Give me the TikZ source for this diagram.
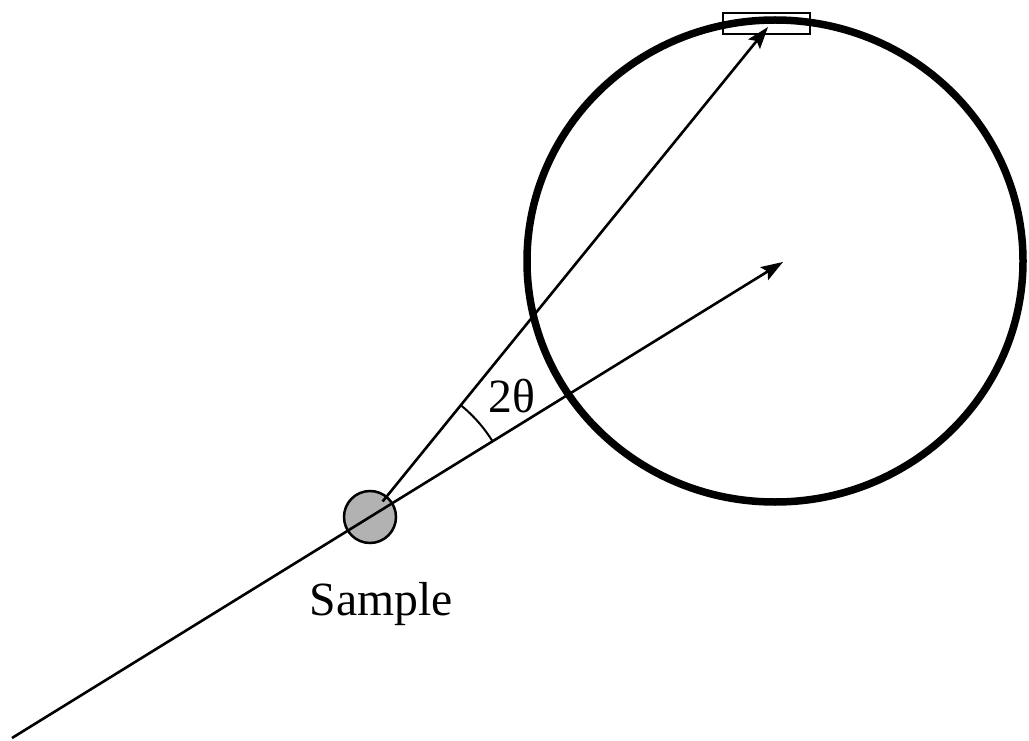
\documentclass[tikz,border=0pt]{standalone}
\usepackage{fontspec}
\setmainfont{Liberation Serif}
\usetikzlibrary{arrows.meta,shapes.geometric,calc}
\begin{document}
\begin{tikzpicture}[x=1pt,y=-1pt,
  beam/.style={line width=2.6pt,-{Stealth[length=22pt,width=15pt,inset=4pt]}},
  lbl/.style={font=\fontsize{47.7}{52}\selectfont,inner sep=0pt}]
\useasboundingbox (0,0) rectangle (1029,741);
% detector ring
\node[ellipse,draw,line width=7.5pt,minimum width=496pt,minimum height=482pt,inner sep=0pt] (ring) at (775,261) {};
% detector element
\node[draw,line width=1.2pt,minimum width=87pt,minimum height=21pt,inner sep=0pt] (det) at (766.5,23.5) {};
% sample
\coordinate (v) at (370,517);
\node[circle,draw,line width=2.5pt,fill=gray!60,minimum size=52pt,inner sep=0pt] (sample) at (v) {};
% beams
\coordinate (src) at (12,738);
\coordinate (tip) at (783,262);
\coordinate (dtip) at (768,27);
\coordinate (bstart) at ($(v)!20pt!(dtip)$);
\draw[beam] (src) -- (tip);
\draw[beam] (bstart) -- (dtip);
% angle arc
\draw[line width=2pt] ($(v)!144pt!(dtip)$) coordinate (a1) arc[start angle=51.0,end angle=31.6,radius=144pt];
% labels
\node[lbl,anchor=base west] (tt) at (488,412) {2θ};
\node[lbl,anchor=base] (stxt) at (381.5,615) {Sample};
\end{tikzpicture}
\end{document}
